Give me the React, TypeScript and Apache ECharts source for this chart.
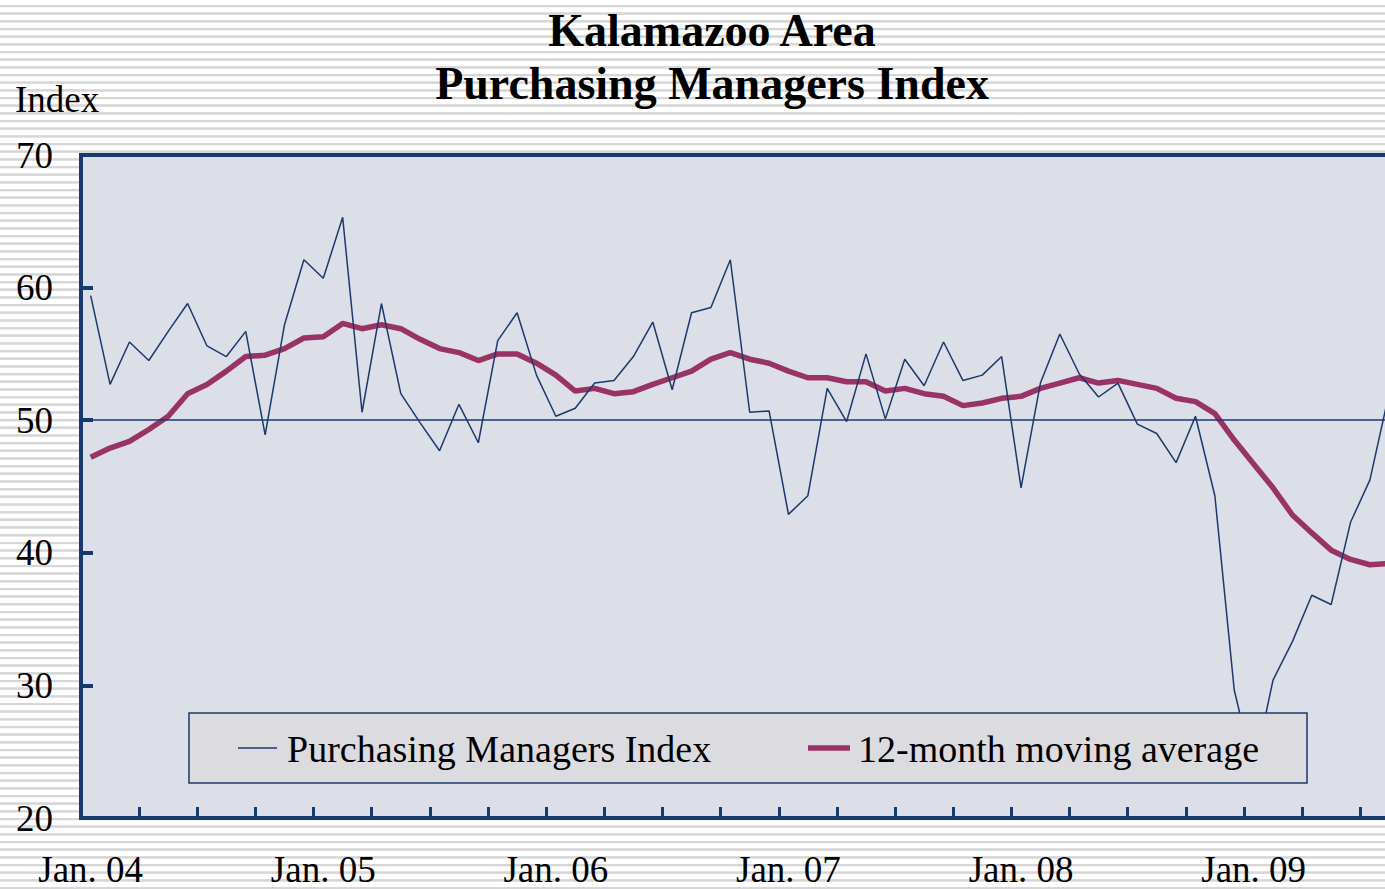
import React, { useEffect, useRef } from "react";
import * as echarts from "echarts";

const categories = [
  "Jan. 04", "Feb. 04", "Mar. 04", "Apr. 04", "May 04", "Jun. 04", "Jul. 04", "Aug. 04", "Sep. 04", "Oct. 04", "Nov. 04", "Dec. 04",
  "Jan. 05", "Feb. 05", "Mar. 05", "Apr. 05", "May 05", "Jun. 05", "Jul. 05", "Aug. 05", "Sep. 05", "Oct. 05", "Nov. 05", "Dec. 05",
  "Jan. 06", "Feb. 06", "Mar. 06", "Apr. 06", "May 06", "Jun. 06", "Jul. 06", "Aug. 06", "Sep. 06", "Oct. 06", "Nov. 06", "Dec. 06",
  "Jan. 07", "Feb. 07", "Mar. 07", "Apr. 07", "May 07", "Jun. 07", "Jul. 07", "Aug. 07", "Sep. 07", "Oct. 07", "Nov. 07", "Dec. 07",
  "Jan. 08", "Feb. 08", "Mar. 08", "Apr. 08", "May 08", "Jun. 08", "Jul. 08", "Aug. 08", "Sep. 08", "Oct. 08", "Nov. 08", "Dec. 08",
  "Jan. 09", "Feb. 09", "Mar. 09", "Apr. 09", "May 09", "Jun. 09", "Jul. 09", "Aug. 09",
];

const pmi = [
  59.4, 52.7, 55.9, 54.5, 56.7, 58.8, 55.6, 54.8, 56.7, 48.9, 57.2, 62.1,
  60.7, 65.3, 50.6, 58.8, 52.0, 49.8, 47.7, 51.2, 48.3, 56.0, 58.1, 53.4,
  50.3, 50.9, 52.8, 53.0, 54.8, 57.4, 52.3, 58.1, 58.5, 62.1, 50.6, 50.7,
  42.9, 44.3, 52.4, 49.9, 55.0, 50.1, 54.6, 52.6, 55.9, 53.0, 53.4, 54.8,
  44.9, 52.8, 56.5, 53.5, 51.75, 52.8, 49.7, 49.0, 46.8, 50.3, 44.3, 29.65,
  23.5, 30.4, 33.3, 36.8, 36.1, 42.3, 45.5, 52.1,
];

const movingAvg = [
  47.2, 47.9, 48.4, 49.3, 50.3, 52.0, 52.7, 53.7, 54.8, 54.9, 55.4, 56.2,
  56.3, 57.3, 56.9, 57.2, 56.9, 56.1, 55.4, 55.1, 54.5, 55.0, 55.0, 54.3,
  53.4, 52.2, 52.4, 52.0, 52.15, 52.7, 53.2, 53.7, 54.6, 55.1, 54.6, 54.3,
  53.7, 53.2, 53.2, 52.9, 52.9, 52.2, 52.4, 52.0, 51.8, 51.1, 51.3, 51.65,
  51.8, 52.4, 52.8, 53.2, 52.8, 53.0, 52.7, 52.4, 51.65, 51.4, 50.5, 48.5,
  46.7, 44.9, 42.85, 41.5, 40.2, 39.5, 39.1, 39.2,
];

const seriesNames = ["Purchasing Managers Index", "12-month moving average"];
const titleLines = ["Kalamazoo Area", "Purchasing Managers Index"];
const yAxisName = "Index";

const NAVY = "#173a6e";
const NAVY_LINE = "#1b3a6b";
const PLUM = "#993366";
const SERIF = "'Liberation Serif', 'Times New Roman', serif";

export default function App() {
  const ref = useRef<HTMLDivElement>(null);

  useEffect(() => {
    document.body.style.margin = "0";
    const chart = echarts.init(ref.current!, undefined, { renderer: "svg" });

    const text = (x: number, y: number, t: string, font: string, align: string) => ({
      type: "text",
      x,
      y,
      z: 100,
      silent: true,
      style: {
        text: t,
        font,
        fill: "#000",
        align,
        verticalAlign: "middle",
        textAlign: align,
        textVerticalAlign: "middle",
      },
    });

    chart.setOption({
      animation: false,
      backgroundColor: "transparent",
      textStyle: { fontFamily: SERIF },
      grid: {
        left: 81,
        top: 155,
        width: 1318,
        height: 663,
        show: true,
        containLabel: false,
        outerBoundsMode: "none",
        backgroundColor: "#dcdee8",
        borderColor: NAVY,
        borderWidth: 4,
      },
      xAxis: {
        type: "category",
        data: categories,
        boundaryGap: true,
        axisLine: { show: false },
        axisTick: {
          show: true,
          inside: true,
          interval: 2,
          length: 11,
          lineStyle: { color: NAVY, width: 3 },
        },
        axisLabel: {
          interval: 11,
          margin: 33,
          fontSize: 37,
          color: "#000",
          fontFamily: SERIF,
        },
        splitLine: { show: false },
      },
      yAxis: {
        type: "value",
        min: 20,
        max: 70,
        interval: 10,
        axisLine: { show: false },
        axisTick: {
          show: true,
          inside: true,
          length: 12,
          lineStyle: { color: NAVY, width: 4 },
        },
        axisLabel: { margin: 28, fontSize: 37, color: "#000", fontFamily: SERIF },
        splitLine: { show: false },
      },
      graphic: [
        text(712, 30, titleLines[0], `bold 46px ${SERIF}`, "center"),
        text(712, 83, titleLines[1], `bold 46px ${SERIF}`, "center"),
        text(15, 99, yAxisName, `37px ${SERIF}`, "left"),
        {
          type: "group",
          z: 100,
          silent: true,
          children: [
            {
              type: "rect",
              shape: { x: 189, y: 713, width: 1118, height: 70 },
              style: { fill: "#dcdce0", stroke: NAVY_LINE, lineWidth: 1.5 },
              z: 100,
            },
            {
              type: "line",
              shape: { x1: 238, y1: 748, x2: 277, y2: 748 },
              style: { stroke: NAVY_LINE, lineWidth: 1.5 },
              z: 101,
            },
            {
              type: "line",
              shape: { x1: 808, y1: 748, x2: 850, y2: 748 },
              style: { stroke: PLUM, lineWidth: 5.5 },
              z: 101,
            },
            { ...text(287, 749, seriesNames[0], `38px ${SERIF}`, "left"), z: 101 },
            { ...text(858, 749, seriesNames[1], `38px ${SERIF}`, "left"), z: 101 },
          ],
        },
      ],
      series: [
        {
          name: seriesNames[1],
          type: "line",
          data: movingAvg,
          symbol: "none",
          lineStyle: { color: PLUM, width: 5.5 },
          itemStyle: { color: PLUM },
          emphasis: { disabled: true },
        },
        {
          name: seriesNames[0],
          type: "line",
          data: pmi,
          symbol: "none",
          lineStyle: { color: NAVY_LINE, width: 1.5 },
          itemStyle: { color: NAVY_LINE },
          emphasis: { disabled: true },
          markLine: {
            silent: true,
            symbol: "none",
            label: { show: false },
            lineStyle: { color: NAVY_LINE, width: 1.5, type: "solid" },
            emphasis: { disabled: true },
            data: [{ yAxis: 50 }],
          },
        },
      ],
    });
    return () => chart.dispose();
  }, []);

  return (
    <div
      ref={ref}
      style={{
        position: "fixed",
        left: 0,
        top: 0,
        width: 1385,
        height: 889,
        background:
          "repeating-linear-gradient(to bottom, #ffffff 0px, #ffffff 4.6px, #e4e4e4 4.6px, #d6d6d6 5.4px, #d6d6d6 6.6px, #e4e4e4 7.2px, #ffffff 7.67px)",
      }}
    />
  );
}
